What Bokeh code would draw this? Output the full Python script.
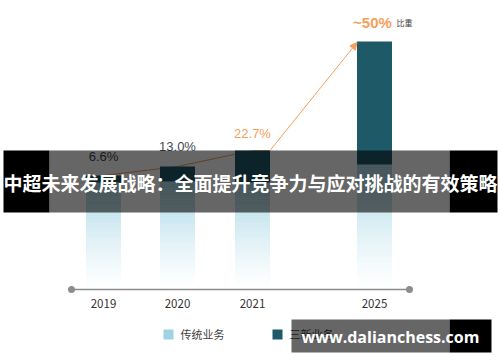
from bokeh.plotting import figure
from bokeh.models import Range1d, BoxAnnotation, Label, Arrow, NormalHead
from bokeh.embed import file_html
from bokeh.resources import INLINE

# ---------------- data ----------------
years = ["2019", "2020", "2021", "2025"]
share_labels = ["6.6%", "13.0%", "22.7%", "~50%"]
trad_height = [107, 108, 107, 125]   # 传统业务 bar (light, gradient)
new_height = [7, 15, 32, 123]        # 三新业务 bar (dark)
legend_names = ["传统业务", "三新业务"]
title_text = "中超未来发展战略：全面提升竞争力与应对挑战的有效策略"
watermark = "www.dalianchess.com"

# ---------------- layout / style ----------------
W, H = 500, 362
xpos = [103, 177, 252, 374]
bar_w = 35
LIGHT = "#9fd3e3"
DARK = "#1e5968"
ORANGE = "#f5a05a"
SLATE = "#3d4a55"
FONT = "Noto Sans CJK SC"

def Y(py):
    return 289 - py

p = figure(width=W, height=H, x_range=Range1d(0, W), y_range=Range1d(-73, 289),
           output_backend="svg", toolbar_location=None, min_border=0,
           outline_line_color=None, background_fill_color="white")
p.axis.visible = False
p.grid.visible = False
p.styles = {"position": "absolute", "left": "0px", "top": "0px"}

# axis line with end dots
p.line([71, 409], [0, 0], line_color="#8c8c8c", line_width=1.5)
p.scatter([71, 409], [0, 0], size=7, fill_color="#8c8c8c", line_color=None)

# gradient light bars (stack of thin slices)
N = 60
for xc, th in zip(xpos, trad_height):
    for i in range(N):
        b = th * i / N
        t = th * (i + 1) / N
        frac = (i + 0.5) / N
        a = 0.92 * frac ** 1.3
        p.quad(left=xc - bar_w / 2, right=xc + bar_w / 2, bottom=b, top=t,
               fill_color=LIGHT, fill_alpha=a, line_color=None)

# orange trend line behind dark bars
tops = [t + n for t, n in zip(trad_height, new_height)]
p.line(xpos[:3] + [xpos[2] + bar_w / 2], tops[:3] + [tops[2]],
       line_color=ORANGE, line_width=1)
p.add_layout(Arrow(end=NormalHead(size=7, fill_color=ORANGE, line_color=ORANGE),
                   x_start=xpos[2] + bar_w / 2, y_start=tops[2],
                   x_end=xpos[3] - bar_w / 2, y_end=tops[3] - 1,
                   line_color=ORANGE, line_width=1))

# dark bars
p.quad(left=[x - bar_w / 2 for x in xpos], right=[x + bar_w / 2 for x in xpos],
       bottom=trad_height, top=tops, fill_color=DARK, line_color=None)

# value labels
lab_colors = [SLATE, SLATE, ORANGE, ORANGE]
lab_sizes = ["13px", "13px", "13px", "15px"]
lab_offsets = [19, 20, 17, 19]
for i in range(4):
    p.add_layout(Label(x=xpos[i] - (2 if i == 3 else 0), y=tops[i] + lab_offsets[i],
                       text=share_labels[i], text_align="center",
                       text_baseline="middle", text_color=lab_colors[i],
                       text_font_size=lab_sizes[i], text_font="Liberation Sans",
                       text_font_style="bold" if i == 3 else "normal"))
p.add_layout(Label(x=396, y=Y(22), text="比重", text_align="left",
                   text_baseline="middle", text_color="#444444",
                   text_font_size="8px", text_font=FONT))

# year labels
for xc, yr in zip(xpos, years):
    p.add_layout(Label(x=xc, y=Y(303), text=yr, text_align="center",
                       text_baseline="middle", text_color="#333333",
                       text_font_size="11.5px", text_font=FONT))

# legend
p.quad(left=[163, 272], right=[173, 282], bottom=[Y(339)] * 2, top=[Y(329)] * 2,
       fill_color=[LIGHT, DARK], line_color=None)
for lx, name in zip([180, 289], legend_names):
    p.add_layout(Label(x=lx, y=Y(333.5), text=name, text_align="left",
                       text_baseline="middle", text_color="#444444",
                       text_font_size="11px", text_font=FONT))

# title band overlay
p.add_layout(BoxAnnotation(left=3, right=49, top=Y(150), bottom=Y(212),
                           fill_color="black", fill_alpha=1.0, line_color=None))
p.add_layout(BoxAnnotation(left=449, right=497, top=Y(150), bottom=Y(212),
                           fill_color="black", fill_alpha=1.0, line_color=None))
p.add_layout(BoxAnnotation(left=49, right=449, top=Y(150), bottom=Y(212),
                           fill_color="black", fill_alpha=0.6, line_color=None))
p.add_layout(Label(x=250, y=Y(182), text=title_text, text_align="center",
                   text_baseline="middle", text_color="white",
                   text_font_size="19px", text_font=FONT, text_font_style="bold"))

# watermark box
p.add_layout(BoxAnnotation(left=291, right=449, top=Y(319), bottom=Y(352),
                           fill_color="black", fill_alpha=0.6, line_color=None))
p.add_layout(BoxAnnotation(left=449, right=491, top=Y(319), bottom=Y(352),
                           fill_color="black", fill_alpha=1.0, line_color=None))
p.add_layout(Label(x=390, y=Y(336), text=watermark, text_align="center",
                   text_baseline="middle", text_color="white",
                   text_font_size="16px", text_font="Open Sans",
                   text_font_style="bold"))

open("out.html", "w").write(file_html(p, INLINE))
